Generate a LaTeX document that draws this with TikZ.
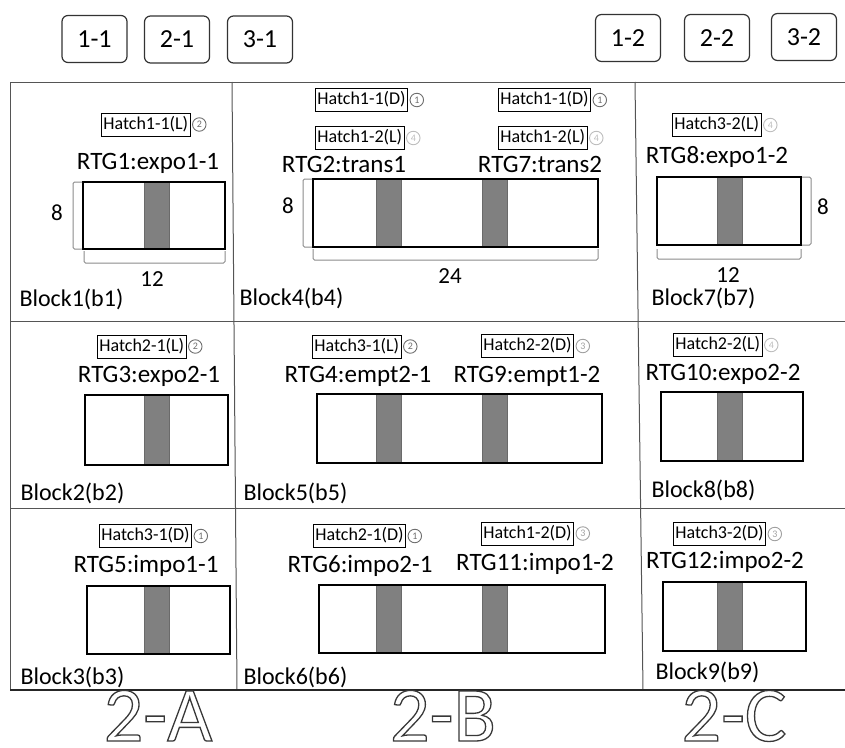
\documentclass[tikz,border=0pt]{standalone}
\usepackage{fontspec}
\setmainfont{Carlito}
\usepackage{xcolor}
\usepackage{tikz}
\usetikzlibrary{positioning}
\definecolor{GridLine}{HTML}{555555}
\definecolor{BarFill}{HTML}{808080}
\definecolor{BarEdge}{HTML}{6A6A6A}
\definecolor{BracketGray}{HTML}{8A8A8A}
\definecolor{MarkDark}{HTML}{6E6E6E}
\definecolor{MarkMid}{HTML}{A0A0A0}
\definecolor{MarkLight}{HTML}{BDBDBD}
% stroked (hollow) glyphs for the bottom tags
\newcommand{\hollowtext}[1]{\special{pdf:literal direct 1 Tr 1.3 w 0.22 0.22 0.22 RG}#1\special{pdf:literal direct 0 Tr}}

\begin{document}
\begin{tikzpicture}[
  x=1pt, y=-1pt,
  every node/.style={font=\fontsize{24}{28}\selectfont},
  gridline/.style={draw=GridLine, line width=1pt},
  baserule/.style={draw=black!85, line width=1.8pt},
  baybox/.style={draw=black!80, line width=1.2pt, rounded corners=6pt, minimum width=65pt,
    minimum height=47pt, inner sep=0pt, font=\fontsize{26}{30}\selectfont},
  hatchbox/.style={draw=black, line width=0.8pt, inner xsep=2pt, inner ysep=3pt,
    text height=13pt, text depth=4pt, anchor=west, font=\fontsize{18}{20}\selectfont},
  seq/.style={circle, draw=#1, text=#1, line width=0.9pt, minimum size=13.5pt, inner sep=0pt,
    font=\fontsize{10}{10}\selectfont},
  rtglabel/.style={anchor=base, font=\fontsize{25}{28}\selectfont},
  blocklabel/.style={anchor=base west, font=\fontsize{24}{28}\selectfont},
  dimlabel/.style={anchor=base, font=\fontsize{23}{26}\selectfont},
  yard/.style={draw=black, line width=1.3pt},
  bar/.style={fill=BarFill, draw=BarEdge, line width=0.8pt},
  bracket/.style={draw=BracketGray, line width=1pt, rounded corners=1.5pt},
  bigtag/.style={anchor=base, font=\fontsize{78}{80}\selectfont},
]
\useasboundingbox (0,0) rectangle (845,747);

% ============ Bays on top ============
\node[baybox] (bay11) at (94.5,39) {1-1};
\node[baybox] (bay21) at (177,39.5) {2-1};
\node[baybox] (bay31) at (260,39.5) {3-1};
\node[baybox] (bay12) at (628,38) {1-2};
\node[baybox] (bay22) at (717,38) {2-2};
\node[baybox] (bay32) at (804,37) {3-2};

% ============ Grid ============
\draw[gridline] (10,82) -- (845,82);
\draw[gridline] (10,82) -- (10,690);
\draw[gridline] (232,82) -- (237,690);
\draw[gridline] (635,82) -- (643,690);
\foreach \y in {321,508}{
  \draw[gridline] (10,\y) -- (845,\y);
}
\draw[baserule] (10,690) -- (845,690);

% ============ Block 1 ============
\node[hatchbox] (h1) at (101,124.5) {Hatch1-1(L)};
\node[seq=MarkDark, right=1.5pt of h1] (s1) {2};
\node[rtglabel] (rtg1) at (148,169) {RTG1:expo1-1};
\draw[bar] (144,182) rectangle (169,249);
\draw[yard] (83,182) rectangle (225,249);
\draw[bracket] (82,182) -- (73,182) -- (73,249) -- (82,249);
\draw[bracket] (84,251) -- (84,263) -- (225,263) -- (225,251);
\node[dimlabel] (dep1) at (57,220) {8};
\node[dimlabel] (len1) at (152,286) {12};
\node[blocklabel] (b1) at (16,306) {Block1(b1)};

% ============ Block 4 ============
\node[hatchbox] (h4a) at (315,100) {Hatch1-1(D)};
\node[seq=MarkDark, right=1.5pt of h4a] (s4a) {1};
\node[hatchbox] (h4b) at (498,100) {Hatch1-1(D)};
\node[seq=MarkDark, right=1.5pt of h4b] (s4b) {1};
\node[hatchbox] (h4c) at (315,138) {Hatch1-2(L)};
\node[seq=MarkLight, right=1.5pt of h4c] (s4c) {4};
\node[hatchbox] (h4d) at (498,138) {Hatch1-2(L)};
\node[seq=MarkLight, right=1.5pt of h4d] (s4d) {4};
\node[rtglabel] (rtg2) at (344,172) {RTG2:trans1};
\node[rtglabel] (rtg7) at (540,172) {RTG7:trans2};
\foreach \x in {376,482}{
  \draw[bar] (\x,179) rectangle (\x+25,247);
}
\draw[yard] (313,179) rectangle (598,247);
\draw[bracket] (312,179) -- (303,179) -- (303,247) -- (312,247);
\draw[bracket] (313,249) -- (313,260) -- (598,260) -- (598,249);
\node[dimlabel] (dep4) at (288,213) {8};
\node[dimlabel] (len4) at (450,283) {24};
\node[blocklabel] (b4) at (236,305) {Block4(b4)};

% ============ Block 7 ============
\node[hatchbox] (h7) at (672,125) {Hatch3-2(L)};
\node[seq=MarkLight, right=1.5pt of h7] (s7) {4};
\node[rtglabel] (rtg8) at (717,163) {RTG8:expo1-2};
\draw[bar] (717,177) rectangle (742,245);
\draw[yard] (657,177) rectangle (801,245);
\draw[bracket] (802,177) -- (811,177) -- (811,245) -- (802,245);
\draw[bracket] (657,249) -- (657,259) -- (801,259) -- (801,249);
\node[dimlabel] (dep7) at (823,214) {8};
\node[dimlabel] (len7) at (728,282) {12};
\node[blocklabel] (b7) at (648,305) {Block7(b7)};

% ============ Block 2 ============
\node[hatchbox] (h2) at (97,346.5) {Hatch2-1(L)};
\node[seq=MarkDark, right=1.5pt of h2] (s2) {2};
\node[rtglabel] (rtg3) at (149,382) {RTG3:expo2-1};
\draw[bar] (144,395) rectangle (169,465);
\draw[yard] (85,395) rectangle (228,465);
\node[blocklabel] (b2) at (17,500) {Block2(b2)};

% ============ Block 5 ============
\node[hatchbox] (h5a) at (312,346.5) {Hatch3-1(L)};
\node[seq=MarkDark, right=1.5pt of h5a] (s5a) {2};
\node[hatchbox] (h5b) at (481,346) {Hatch2-2(D)};
\node[seq=MarkMid, right=1.5pt of h5b] (s5b) {3};
\node[rtglabel] (rtg4) at (358,382) {RTG4:empt2-1};
\node[rtglabel] (rtg9) at (527,382) {RTG9:empt1-2};
\foreach \x in {376,482}{
  \draw[bar] (\x,394) rectangle (\x+25,463);
}
\draw[yard] (317,394) rectangle (602,463);
\node[blocklabel] (b5) at (240,500) {Block5(b5)};

% ============ Block 8 ============
\node[hatchbox] (h8) at (673,345) {Hatch2-2(L)};
\node[seq=MarkLight, right=1.5pt of h8] (s8) {4};
\node[rtglabel] (rtg10) at (723,380) {RTG10:expo2-2};
\draw[bar] (717,392) rectangle (742,461);
\draw[yard] (661,392) rectangle (803,461);
\node[blocklabel] (b8) at (648,497) {Block8(b8)};

% ============ Block 3 ============
\node[hatchbox] (h3) at (99,536) {Hatch3-1(D)};
\node[seq=MarkDark, right=1.5pt of h3] (s3) {1};
\node[rtglabel] (rtg5) at (146,572) {RTG5:impo1-1};
\draw[bar] (144,586) rectangle (169,654);
\draw[yard] (87,586) rectangle (230,654);
\node[blocklabel] (b3) at (17,684) {Block3(b3)};

% ============ Block 6 ============
\node[hatchbox] (h6a) at (313,536) {Hatch2-1(D)};
\node[seq=MarkDark, right=1.5pt of h6a] (s6a) {1};
\node[hatchbox] (h6b) at (481,533.5) {Hatch1-2(D)};
\node[seq=MarkMid, right=1.5pt of h6b] (s6b) {3};
\node[rtglabel] (rtg6) at (360,572) {RTG6:impo2-1};
\node[rtglabel] (rtg11) at (535,570) {RTG11:impo1-2};
\foreach \x in {376,482}{
  \draw[bar] (\x,585) rectangle (\x+25,653);
}
\draw[yard] (319,585) rectangle (605,653);
\node[blocklabel] (b6) at (240,684) {Block6(b6)};

% ============ Block 9 ============
\node[hatchbox] (h9) at (673,534) {Hatch3-2(D)};
\node[seq=MarkMid, right=1.5pt of h9] (s9) {3};
\node[rtglabel] (rtg12) at (725,568) {RTG12:impo2-2};
\draw[bar] (717,582) rectangle (742,651);
\draw[yard] (663,582) rectangle (806,651);
\node[blocklabel] (b9) at (652,679) {Block9(b9)};

% ============ Area tags ============
\node[bigtag] (tagA) at (158,741) {\hollowtext{2-A}};
\node[bigtag] (tagB) at (443,741) {\hollowtext{2-B}};
\node[bigtag] (tagC) at (734,741) {\hollowtext{2-C}};

\end{tikzpicture}
\end{document}
